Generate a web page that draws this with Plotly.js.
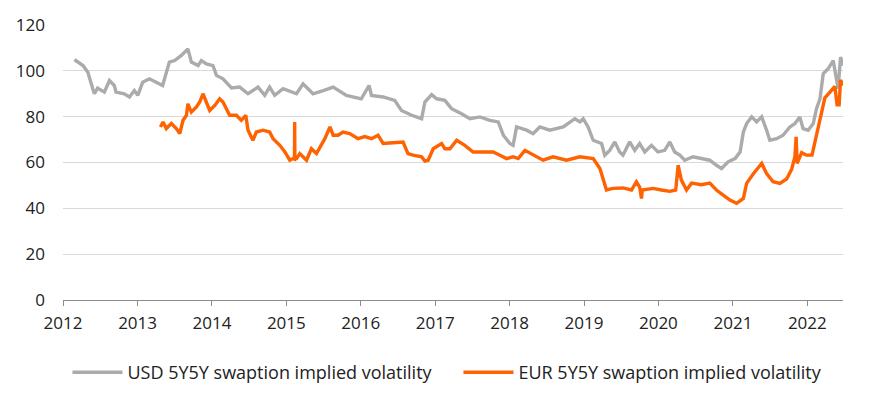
<!DOCTYPE html>
<html>
<head>
<meta charset="utf-8">
<script src="https://cdn.plot.ly/plotly-3.0.1.min.js"></script>
<style>
  html, body { margin: 0; padding: 0; background: #fff; }
  #chart { width: 876px; height: 403px; }
</style>
</head>
<body>
<div id="chart"></div>
<script>
// USD 5Y5Y swaption implied volatility
const usdDates = [
  '2012-02-27','2012-03-04','2012-04-08','2012-05-02','2012-05-26','2012-06-03','2012-06-19','2012-07-22',
  '2012-08-16','2012-09-09','2012-09-17','2012-10-28','2012-11-22','2012-12-16','2013-01-02','2013-01-26',
  '2013-02-28','2013-04-01','2013-05-04','2013-06-06','2013-07-02','2013-08-04','2013-09-05','2013-09-22',
  '2013-10-25','2013-11-10','2013-12-05','2014-01-06','2014-01-23','2014-02-24','2014-04-07','2014-05-17',
  '2014-06-27','2014-08-15','2014-09-17','2014-10-11','2014-11-05','2014-12-16','2015-02-03','2015-02-20',
  '2015-03-24','2015-05-12','2015-07-01','2015-08-19','2015-10-23','2016-01-04','2016-02-11','2016-02-23',
  '2016-04-20','2016-06-16','2016-07-19','2016-09-07','2016-10-26','2016-11-11','2016-12-14','2017-01-08',
  '2017-02-17','2017-03-22','2017-05-10','2017-06-20','2017-08-08','2017-09-26','2017-11-06','2017-12-01',
  '2018-01-02','2018-01-18','2018-02-04','2018-03-25','2018-04-26','2018-05-29','2018-07-17','2018-09-21',
  '2018-11-17','2018-12-12','2018-12-28','2019-01-21','2019-02-15','2019-03-28','2019-04-13','2019-05-07',
  '2019-06-01','2019-06-25','2019-07-11','2019-08-13','2019-09-07','2019-10-01','2019-10-26','2019-11-28',
  '2019-12-30','2020-02-01','2020-02-26','2020-03-21','2020-04-15','2020-05-09','2020-06-19','2020-08-07',
  '2020-09-09','2020-10-12','2020-11-06','2020-12-08','2021-01-11','2021-02-05','2021-02-21','2021-03-09',
  '2021-04-03','2021-04-27','2021-05-22','2021-06-15','2021-07-01','2021-08-03','2021-09-04','2021-10-07',
  '2021-11-01','2021-11-25','2021-12-11','2022-01-05','2022-01-30','2022-02-15','2022-03-04','2022-03-20',
  '2022-04-13','2022-05-08','2022-05-24','2022-06-01','2022-06-13','2022-06-25'
];
const usdValues = [
  103.9,104.5,102.3,99.4,92.2,90.0,92.5,90.7,
  95.8,93.6,90.7,90.0,88.6,91.4,89.3,95.0,
  96.5,95.0,93.6,103.8,104.5,106.7,109.6,103.8,
  102.3,104.5,103.0,102.3,98.0,96.5,92.5,92.9,
  90.0,92.9,89.3,92.9,89.3,92.2,90.7,90.0,
  94.3,90.0,91.4,92.9,89.3,87.8,93.6,89.3,
  88.6,87.1,82.7,80.6,79.1,86.4,89.6,87.8,
  87.1,83.5,81.3,79.1,79.9,78.4,77.7,71.9,
  68.3,67.5,75.5,74.1,72.6,75.5,74.1,75.5,
  79.1,77.7,79.1,75.5,69.7,68.3,63.2,65.3,
  69.0,64.6,63.2,69.0,65.3,68.3,64.6,67.5,
  64.6,65.3,69.0,64.6,63.2,61.0,62.5,61.7,
  61.0,58.8,57.4,60.3,61.7,64.6,73.3,77.0,
  79.9,77.7,79.9,74.1,69.7,70.4,71.9,75.5,
  77.0,79.9,74.8,74.1,77.0,83.5,87.8,98.7,
  100.9,104.5,95.0,92.2,106.0,102.3
];

// EUR 5Y5Y swaption implied volatility
const eurDates = [
  '2013-04-23','2013-05-06','2013-05-22','2013-06-16','2013-07-10','2013-07-27','2013-08-12','2013-08-29',
  '2013-09-05','2013-09-22','2013-10-17','2013-11-02','2013-11-18','2013-12-21','2014-01-15','2014-02-08',
  '2014-02-24','2014-03-29','2014-05-01','2014-05-25','2014-06-16','2014-06-27','2014-07-21','2014-08-07',
  '2014-09-09','2014-10-11','2014-10-28','2014-11-30','2014-12-25','2015-01-18','2015-02-03','2015-02-10',
  '2015-02-11','2015-02-12','2015-02-20','2015-03-08','2015-04-10','2015-05-04','2015-05-29','2015-06-23',
  '2015-07-09','2015-08-03','2015-08-19','2015-09-12','2015-10-06','2015-11-08','2015-12-19','2016-01-21',
  '2016-02-23','2016-03-26','2016-04-20','2016-06-08','2016-07-27','2016-08-20','2016-09-14','2016-10-26',
  '2016-11-11','2016-11-27','2016-12-22','2017-02-01','2017-02-17','2017-03-14','2017-04-16','2017-05-26',
  '2017-07-06','2017-08-08','2017-10-12','2017-11-14','2017-12-17','2018-01-18','2018-02-12','2018-03-17',
  '2018-04-26','2018-06-14','2018-08-02','2018-10-07','2018-12-12','2019-02-15','2019-03-20','2019-04-05',
  '2019-04-21','2019-05-23','2019-07-11','2019-08-22','2019-09-15','2019-10-01','2019-10-10','2019-10-14',
  '2019-12-06','2020-01-16','2020-02-26','2020-03-26','2020-04-07','2020-04-23','2020-05-18','2020-06-12',
  '2020-07-30','2020-09-09','2020-10-12','2020-11-14','2020-12-17','2021-01-19','2021-02-21','2021-03-09',
  '2021-04-10','2021-05-22','2021-06-15','2021-07-17','2021-08-19','2021-09-21','2021-10-16','2021-11-01',
  '2021-11-07','2021-11-12','2021-12-04','2021-12-28','2022-01-24','2022-02-05','2022-02-24','2022-03-12',
  '2022-03-28','2022-04-22','2022-05-16','2022-05-27','2022-06-06','2022-06-13','2022-06-25'
];
const eurValues = [
  75.5,77.7,74.8,77.0,74.8,72.6,78.4,80.6,
  85.6,82.0,84.2,86.4,90.0,82.7,84.9,87.8,
  86.4,80.6,80.6,78.4,80.6,74.1,69.7,73.3,
  74.1,73.3,70.4,67.5,64.6,61.0,61.7,61.5,
  77.7,61.7,61.7,63.9,61.0,66.0,63.9,67.5,
  70.4,75.5,71.9,71.9,73.3,72.6,70.4,71.3,
  70.4,71.9,68.3,68.6,68.9,63.9,63.2,62.5,
  60.6,61.0,66.0,68.3,66.0,66.0,69.7,67.5,
  64.6,64.6,64.6,63.2,61.7,62.5,61.7,65.3,
  63.2,61.0,62.5,61.0,62.5,61.7,57.4,53.0,
  48.0,48.7,48.9,48.0,51.6,49.3,44.3,48.0,
  48.7,48.0,47.4,48.0,58.8,52.3,48.0,51.0,
  50.3,51.0,48.0,45.8,43.6,42.2,44.3,50.9,
  55.0,59.6,55.2,51.6,50.9,52.8,57.0,62.5,
  71.2,59.6,64.3,63.2,63.2,68.0,75.5,81.0,
  88.2,90.7,93.2,85.2,85.2,96.0,93.6
];

const seriesNames = ['USD 5Y5Y swaption implied volatility', 'EUR 5Y5Y swaption implied volatility'];
const yTicks = [0, 20, 40, 60, 80, 100, 120];
const xTickYears = ['2012','2013','2014','2015','2016','2017','2018','2019','2020','2021','2022'];

const traces = [
  { x: usdDates, y: usdValues, name: seriesNames[0], type: 'scatter', mode: 'lines',
    line: { color: '#ababab', width: 3.4 } },
  { x: eurDates, y: eurValues, name: seriesNames[1], type: 'scatter', mode: 'lines',
    line: { color: '#ff6200', width: 3.4 } }
];

const font = "'Open Sans', 'Noto Sans', sans-serif";

const layout = {
  width: 876, height: 403,
  margin: { l: 63, r: 33, t: 25, b: 101 },
  paper_bgcolor: '#ffffff', plot_bgcolor: '#ffffff',
  font: { family: font, size: 17, color: '#222222' },
  showlegend: true,
  legend: {
    orientation: 'h', x: 0.507, xanchor: 'center', y: -0.264, yanchor: 'middle',
    font: { family: font, size: 18, color: '#222222' },
    itemwidth: 50, tracegroupgap: 0, entrywidth: 326
  },
  xaxis: {
    type: 'date',
    range: ['2012-01-01', '2022-06-25'],
    tickvals: xTickYears.map(y => y + '-01-01'),
    ticktext: xTickYears,
    showgrid: false, zeroline: false,
    showline: true, linecolor: '#8c8c8c', linewidth: 1,
    ticks: 'outside', ticklen: 5, tickcolor: '#8c8c8c', tickwidth: 1,
    ticklabelstandoff: 3,
    tickfont: { family: font, size: 17, color: '#222222' }
  },
  yaxis: {
    range: [0, 120],
    tickvals: yTicks,
    showgrid: true, gridcolor: '#d9d9d9', gridwidth: 1,
    zeroline: false, showline: false, ticks: '',
    ticklabelstandoff: 17,
    tickfont: { family: font, size: 17, color: '#222222' }
  }
};

Plotly.newPlot('chart', traces, layout, { displayModeBar: false, staticPlot: true });
</script>
</body>
</html>
